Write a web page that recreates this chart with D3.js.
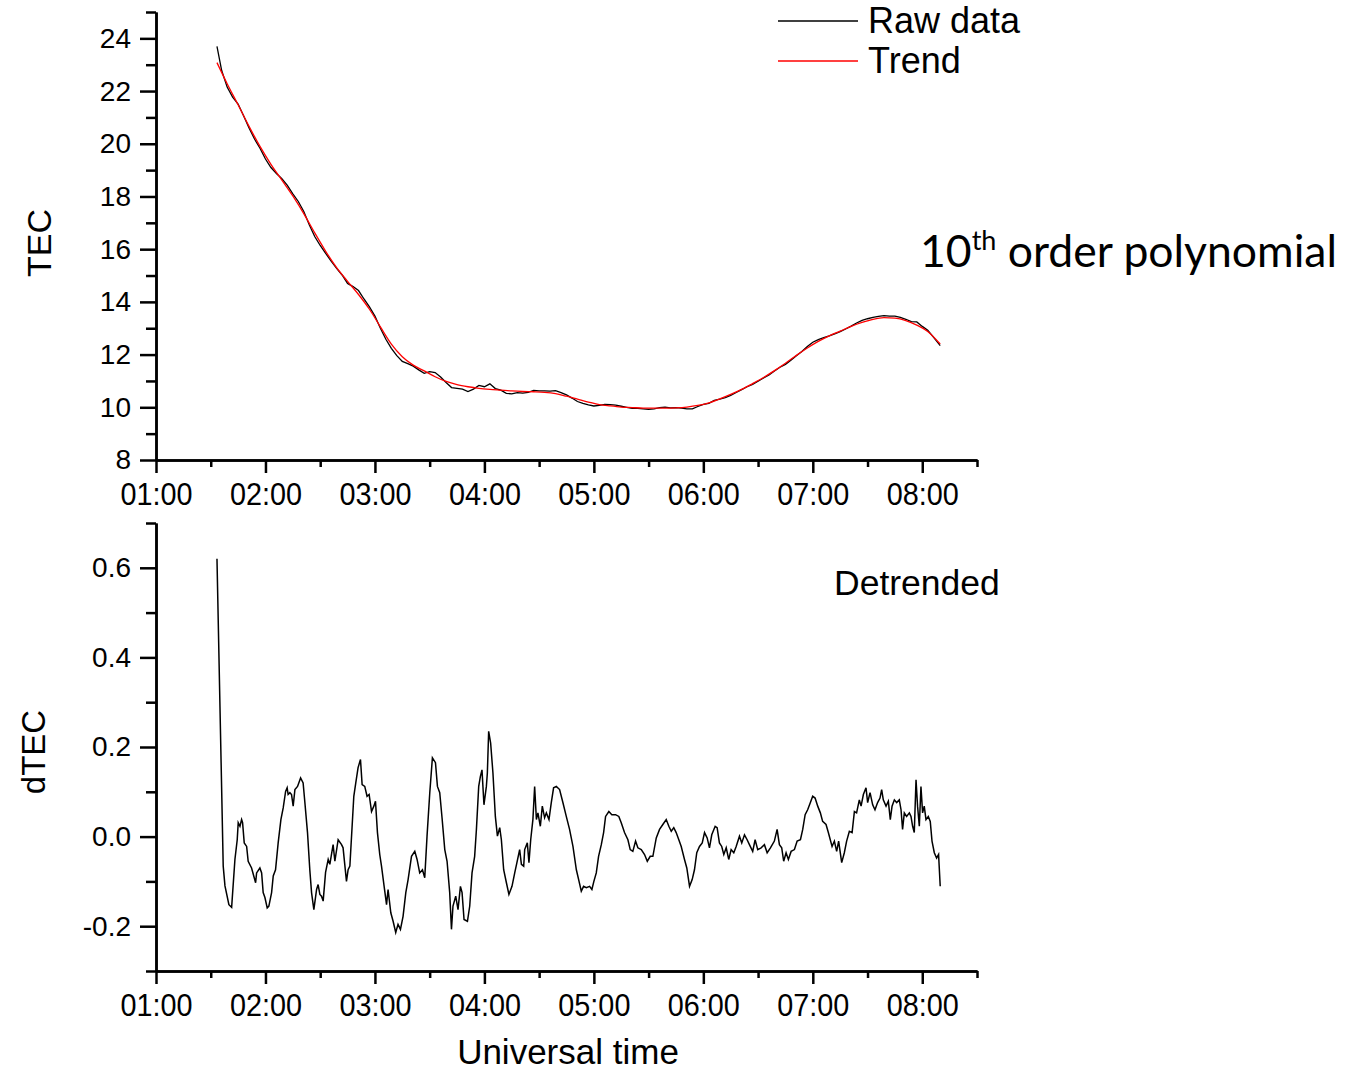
<!DOCTYPE html>
<html>
<head>
<meta charset="utf-8">
<script src="https://cdn.jsdelivr.net/npm/d3@7"></script>
<style>
  body { margin: 0; background: #fff; }
  text { font-family: "Liberation Sans", Arial, sans-serif; fill: #000; }
</style>
</head>
<body>
<svg id="chart" width="1361" height="1073"></svg>
<script>
// universal time in decimal hours
const trendTime = [1.557, 1.65, 1.75, 1.85, 1.95, 2.05, 2.15, 2.25, 2.35, 2.45, 2.55, 2.65, 2.75, 2.85, 2.95,
  3.05, 3.15, 3.25, 3.35, 3.45, 3.55, 3.65, 3.75, 3.85, 3.95, 4.05, 4.15, 4.25, 4.35, 4.45, 4.55, 4.65,
  4.75, 4.85, 4.95, 5.05, 5.15, 5.25, 5.35, 5.45, 5.55, 5.65, 5.75, 5.85, 5.95, 6.05, 6.15, 6.25, 6.35,
  6.45, 6.55, 6.65, 6.75, 6.85, 6.95, 7.05, 7.15, 7.25, 7.35, 7.45, 7.55, 7.65, 7.75, 7.85, 7.95, 8.05, 8.164];
const trendTec = [23.08, 22.28, 21.48, 20.66, 19.90, 19.22, 18.62, 18.02, 17.35, 16.62, 15.92, 15.30, 14.78, 14.28, 13.72,
  13.05, 12.40, 11.92, 11.60, 11.38, 11.16, 10.98, 10.86, 10.78, 10.72, 10.68, 10.65, 10.62, 10.60, 10.59, 10.57, 10.52,
  10.42, 10.31, 10.20, 10.10, 10.05, 10.01, 9.99, 9.97, 9.97, 9.97, 9.98, 10.01, 10.07, 10.17, 10.32, 10.49, 10.68,
  10.90, 11.13, 11.39, 11.67, 11.97, 12.25, 12.50, 12.71, 12.89, 13.07, 13.22, 13.34, 13.40, 13.38, 13.29, 13.12, 12.88, 12.40];

const rawTime = [1.557, 1.60, 1.65, 1.70, 1.75, 1.80, 1.85, 1.90, 1.95, 2.00, 2.05, 2.10, 2.15, 2.20, 2.25, 2.30,
  2.35, 2.40, 2.45, 2.50, 2.55, 2.60, 2.65, 2.70, 2.75, 2.80, 2.85, 2.90, 2.95, 3.00, 3.05, 3.10, 3.15, 3.20,
  3.25, 3.30, 3.35, 3.40, 3.45, 3.50, 3.55, 3.60, 3.65, 3.70, 3.75, 3.80, 3.85, 3.90, 3.95, 4.00, 4.05, 4.10,
  4.15, 4.20, 4.25, 4.30, 4.35, 4.40, 4.45, 4.50, 4.55, 4.60, 4.65, 4.70, 4.75, 4.80, 4.85, 4.90, 4.95, 5.00,
  5.05, 5.10, 5.15, 5.20, 5.25, 5.30, 5.35, 5.40, 5.45, 5.50, 5.55, 5.60, 5.65, 5.70, 5.75, 5.80, 5.85, 5.90,
  5.95, 6.00, 6.05, 6.10, 6.15, 6.20, 6.25, 6.30, 6.35, 6.40, 6.45, 6.50, 6.55, 6.60, 6.65, 6.70, 6.75, 6.80,
  6.85, 6.90, 6.95, 7.00, 7.05, 7.10, 7.15, 7.20, 7.25, 7.30, 7.35, 7.40, 7.45, 7.50, 7.55, 7.60, 7.65, 7.70,
  7.75, 7.80, 7.85, 7.90, 7.95, 8.00, 8.05, 8.10, 8.164];
const rawTec = [23.70, 22.78, 22.15, 21.77, 21.51, 21.06, 20.60, 20.18, 19.83, 19.42, 19.10, 18.87, 18.67, 18.42, 18.10, 17.81,
  17.43, 16.93, 16.48, 16.14, 15.84, 15.55, 15.27, 15.02, 14.70, 14.58, 14.43, 14.11, 13.81, 13.46, 13.00, 12.58, 12.24, 11.96,
  11.74, 11.66, 11.56, 11.42, 11.29, 11.35, 11.32, 11.15, 10.94, 10.75, 10.72, 10.69, 10.60, 10.69, 10.83, 10.78, 10.89, 10.71,
  10.65, 10.53, 10.51, 10.56, 10.54, 10.57, 10.64, 10.62, 10.62, 10.61, 10.63, 10.56, 10.47, 10.35, 10.22, 10.15, 10.09, 10.05,
  10.07, 10.11, 10.10, 10.08, 10.04, 10.00, 9.96, 9.96, 9.94, 9.92, 9.94, 9.99, 10.01, 9.98, 9.99, 9.97, 9.94, 9.94,
  10.03, 10.11, 10.15, 10.26, 10.31, 10.37, 10.45, 10.56, 10.67, 10.78, 10.87, 10.99, 11.11, 11.23, 11.38, 11.52, 11.63, 11.79,
  11.96, 12.12, 12.31, 12.47, 12.57, 12.64, 12.71, 12.79, 12.87, 12.97, 13.08, 13.20, 13.30, 13.36, 13.41, 13.45, 13.48, 13.46,
  13.46, 13.41, 13.34, 13.25, 13.24, 13.07, 12.92, 12.67, 12.34];

const dtecTime = [1.557, 1.614, 1.630, 1.666, 1.691, 1.721, 1.742, 1.751, 1.767, 1.782, 1.791, 1.806, 1.828, 1.842, 1.873,
  1.910, 1.919, 1.949, 1.965, 1.979, 1.995, 2.016, 2.031, 2.056, 2.071, 2.092, 2.116, 2.141, 2.162, 2.184, 2.198,
  2.207, 2.223, 2.238, 2.253, 2.269, 2.293, 2.321, 2.344, 2.360, 2.384, 2.405, 2.421, 2.442, 2.467, 2.481, 2.497,
  2.512, 2.527, 2.549, 2.573, 2.588, 2.618, 2.634, 2.664, 2.695, 2.709, 2.740, 2.755, 2.771, 2.807, 2.825, 2.846,
  2.868, 2.883, 2.907, 2.928, 2.947, 2.969, 2.990, 3.005, 3.023, 3.044, 3.060, 3.084, 3.106, 3.120, 3.145, 3.166,
  3.190, 3.211, 3.233, 3.257, 3.282, 3.303, 3.334, 3.364, 3.385, 3.409, 3.434, 3.455, 3.476, 3.501, 3.525, 3.553,
  3.571, 3.592, 3.613, 3.638, 3.659, 3.683, 3.699, 3.713, 3.738, 3.759, 3.781, 3.796, 3.814, 3.845, 3.866, 3.887,
  3.911, 3.927, 3.948, 3.963, 3.978, 3.996, 4.018, 4.027, 4.039, 4.057, 4.078, 4.100, 4.119, 4.140, 4.155, 4.176,
  4.201, 4.224, 4.252, 4.277, 4.297, 4.322, 4.338, 4.359, 4.368, 4.392, 4.407, 4.423, 4.443, 4.459, 4.475, 4.489,
  4.511, 4.529, 4.550, 4.566, 4.590, 4.611, 4.632, 4.657, 4.687, 4.717, 4.748, 4.778, 4.809, 4.840, 4.861, 4.885,
  4.906, 4.931, 4.961, 4.982, 5.000, 5.022, 5.043, 5.068, 5.089, 5.107, 5.137, 5.164, 5.198, 5.228, 5.250, 5.280,
  5.311, 5.332, 5.356, 5.381, 5.402, 5.433, 5.463, 5.488, 5.515, 5.539, 5.570, 5.600, 5.630, 5.661, 5.685, 5.707,
  5.730, 5.752, 5.776, 5.798, 5.828, 5.849, 5.874, 5.898, 5.919, 5.940, 5.965, 5.990, 6.011, 6.035, 6.056, 6.077,
  6.108, 6.126, 6.147, 6.168, 6.187, 6.209, 6.232, 6.254, 6.278, 6.300, 6.330, 6.351, 6.376, 6.400, 6.421, 6.451,
  6.473, 6.497, 6.528, 6.558, 6.583, 6.613, 6.649, 6.674, 6.695, 6.716, 6.734, 6.756, 6.777, 6.802, 6.832, 6.857,
  6.887, 6.908, 6.930, 6.953, 6.978, 6.999, 7.021, 7.045, 7.069, 7.090, 7.121, 7.142, 7.176, 7.197, 7.218, 7.236,
  7.264, 7.288, 7.309, 7.334, 7.359, 7.380, 7.400, 7.425, 7.441, 7.462, 7.486, 7.501, 7.523, 7.547, 7.568, 7.592,
  7.614, 7.629, 7.644, 7.669, 7.690, 7.708, 7.724, 7.745, 7.766, 7.790, 7.806, 7.820, 7.836, 7.857, 7.882, 7.897,
  7.912, 7.927, 7.943, 7.957, 7.973, 7.988, 8.003, 8.018, 8.034, 8.055, 8.073, 8.089, 8.110, 8.131, 8.149, 8.164];
const dtecValue = [0.62, -0.066, -0.11, -0.152, -0.158, -0.051, -0.007, 0.031, 0.023, 0.038, 0.031, -0.014, -0.022, -0.055, -0.07,
  -0.103, -0.081, -0.07, -0.081, -0.125, -0.136, -0.159, -0.155, -0.125, -0.088, -0.074, -0.014, 0.038, 0.064, 0.101, 0.109,
  0.094, 0.098, 0.094, 0.068, 0.105, 0.112, 0.131, 0.12, 0.076, 0.009, -0.074, -0.125, -0.163, -0.118, -0.107, -0.129,
  -0.133, -0.144, -0.08, -0.051, -0.062, -0.018, -0.055, -0.007, -0.018, -0.025, -0.1, -0.074, -0.066, 0.09, 0.12, 0.154,
  0.172, 0.116, 0.112, 0.09, 0.094, 0.056, 0.068, 0.079, 0.009, -0.04, -0.066, -0.111, -0.152, -0.118, -0.17, -0.189,
  -0.214, -0.196, -0.207, -0.178, -0.125, -0.096, -0.044, -0.033, -0.051, -0.081, -0.074, -0.092, 0.001, 0.098, 0.176, 0.165,
  0.112, 0.098, 0.042, -0.029, -0.055, -0.125, -0.207, -0.155, -0.133, -0.163, -0.111, -0.125, -0.185, -0.189, -0.155, -0.081,
  -0.044, 0.016, 0.112, 0.134, 0.149, 0.071, 0.112, 0.142, 0.235, 0.209, 0.142, 0.045, 0.001, 0.02, -0.007, -0.074,
  -0.103, -0.129, -0.111, -0.081, -0.058, -0.029, -0.062, -0.066, -0.029, -0.014, -0.058, -0.007, 0.038, 0.112, 0.038, 0.053,
  0.023, 0.068, 0.042, 0.053, 0.038, 0.076, 0.109, 0.112, 0.105, 0.076, 0.045, 0.016, -0.022, -0.074, -0.096, -0.122,
  -0.111, -0.114, -0.111, -0.118, -0.1, -0.081, -0.044, -0.018, 0.009, 0.045, 0.056, 0.049, 0.049, 0.045, 0.031, 0.009,
  -0.007, -0.029, -0.033, -0.01, -0.025, -0.029, -0.04, -0.055, -0.044, -0.044, -0.003, 0.016, 0.027, 0.038, 0.023, 0.012,
  0.02, 0.009, -0.007, -0.022, -0.051, -0.07, -0.111, -0.096, -0.074, -0.036, -0.022, -0.014, 0.009, -0.003, -0.025, 0.004,
  0.023, 0.02, -0.014, -0.022, -0.04, -0.025, -0.051, -0.029, -0.036, -0.022, 0.001, -0.014, 0.004, -0.007, -0.018, -0.033,
  -0.007, -0.029, -0.025, -0.018, -0.036, -0.025, -0.01, 0.016, -0.018, -0.025, -0.055, -0.036, -0.051, -0.033, -0.029, -0.01,
  -0.007, 0.016, 0.049, 0.06, 0.076, 0.09, 0.086, 0.068, 0.053, 0.034, 0.027, 0.009, -0.022, -0.01, -0.033, -0.01,
  -0.058, -0.036, -0.01, 0.012, 0.009, 0.056, 0.053, 0.082, 0.068, 0.094, 0.109, 0.076, 0.098, 0.071, 0.06, 0.076,
  0.086, 0.105, 0.082, 0.068, 0.079, 0.038, 0.068, 0.082, 0.076, 0.082, 0.06, 0.016, 0.053, 0.045, 0.053, 0.045,
  0.023, 0.009, 0.127, 0.068, 0.023, 0.112, 0.053, 0.068, 0.038, 0.045, 0.034, -0.01, -0.036, -0.048, -0.04, -0.111];

const hourTicks = [1, 2, 3, 4, 5, 6, 7, 8];
const halfHourTicks = [1.5, 2.5, 3.5, 4.5, 5.5, 6.5, 7.5, 8.5];
const tecTicks = [8, 10, 12, 14, 16, 18, 20, 22, 24];
const tecMinorTicks = [9, 11, 13, 15, 17, 19, 21, 23, 25];
const dtecTicks = [-0.2, 0.0, 0.2, 0.4, 0.6];
const dtecMinorTicks = [-0.3, -0.1, 0.1, 0.3, 0.5, 0.7];

const svg = d3.select('#chart');

const x = d3.scaleLinear().domain([1, 8.5]).range([156, 977]);
const yTop = d3.scaleLinear().domain([8, 25]).range([460, 12]);
const yBot = d3.scaleLinear().domain([-0.3, 0.7]).range([971, 523]);

const hourFmt = h => d3.format('02d')(h) + ':00';

function drawAxes(y, yTicks, yMinor, yFmt, axisY) {
    // x axis, major + minor
    const gx = svg.append('g').attr('transform', `translate(0,${axisY})`);
    gx.call(d3.axisBottom(x).tickValues(hourTicks).tickFormat(hourFmt)
        .tickSize(13).tickSizeOuter(0).tickPadding(9));
    gx.append('g').call(d3.axisBottom(x).tickValues(halfHourTicks).tickFormat('')
        .tickSize(7).tickSizeOuter(0));
    gx.selectAll('text')
        .style('font-size', '32px')
        .attr('transform', 'scale(0.9,1)');

    // y axis, major + minor
    const gy = svg.append('g').attr('transform', 'translate(156,0)');
    gy.call(d3.axisLeft(y).tickValues(yTicks).tickFormat(yFmt)
        .tickSize(16).tickSizeOuter(0).tickPadding(9));
    gy.append('g').call(d3.axisLeft(y).tickValues(yMinor).tickFormat('')
        .tickSize(10).tickSizeOuter(0));
    gy.selectAll('text').style('font-size', '28px');

    svg.selectAll('.domain, .tick line')
        .attr('stroke', '#000')
        .attr('stroke-width', 2.5);
}

drawAxes(yTop, tecTicks, tecMinorTicks, v => String(v), 460);
drawAxes(yBot, dtecTicks, dtecMinorTicks, v => v.toFixed(1), 971);

// curves
const rawLine = d3.line().x(i => x(rawTime[i])).y(i => yTop(rawTec[i]));
const trendLine = d3.line().x(i => x(trendTime[i])).y(i => yTop(trendTec[i])).curve(d3.curveMonotoneX);
const dtecLine = d3.line().x(i => x(dtecTime[i])).y(i => yBot(dtecValue[i]));

svg.append('path')
    .attr('d', rawLine(d3.range(rawTime.length)))
    .attr('fill', 'none').attr('stroke', '#000').attr('stroke-width', 1.3);
svg.append('path')
    .attr('d', trendLine(d3.range(trendTime.length)))
    .attr('fill', 'none').attr('stroke', '#ff0000').attr('stroke-width', 1.3);
svg.append('path')
    .attr('d', dtecLine(d3.range(dtecTime.length)))
    .attr('fill', 'none').attr('stroke', '#000').attr('stroke-width', 1.5);

// axis titles
svg.append('text')
    .attr('transform', 'translate(51,243) rotate(-90)')
    .attr('text-anchor', 'middle')
    .style('font-size', '34px')
    .text('TEC');
svg.append('text')
    .attr('transform', 'translate(45,752) rotate(-90)')
    .attr('text-anchor', 'middle')
    .style('font-size', '33px')
    .text('dTEC');
svg.append('text')
    .attr('x', 568).attr('y', 1064)
    .attr('text-anchor', 'middle')
    .style('font-size', '35px')
    .text('Universal time');

// legend
const legend = [
    { label: 'Raw data', color: '#000', y: 21 },
    { label: 'Trend', color: '#ff0000', y: 61 }
];
legend.forEach(d => {
    svg.append('line')
        .attr('x1', 778).attr('x2', 858)
        .attr('y1', d.y).attr('y2', d.y)
        .attr('stroke', d.color).attr('stroke-width', 1.3);
    svg.append('text')
        .attr('x', 868).attr('y', d.y + 12)
        .style('font-size', '36px')
        .text(d.label);
});

// annotations
const note = svg.append('text')
    .attr('x', 920).attr('y', 267)
    .style('font-family', 'Lato, "Open Sans", sans-serif')
    .style('font-size', '44.5px');
note.append('tspan').text('10');
note.append('tspan').attr('dy', -17).style('font-size', '27px').text('th');
note.append('tspan').attr('dy', 17).text(' order polynomial');

svg.append('text')
    .attr('x', 834).attr('y', 595)
    .style('font-size', '35.5px')
    .text('Detrended');
</script>
</body>
</html>
